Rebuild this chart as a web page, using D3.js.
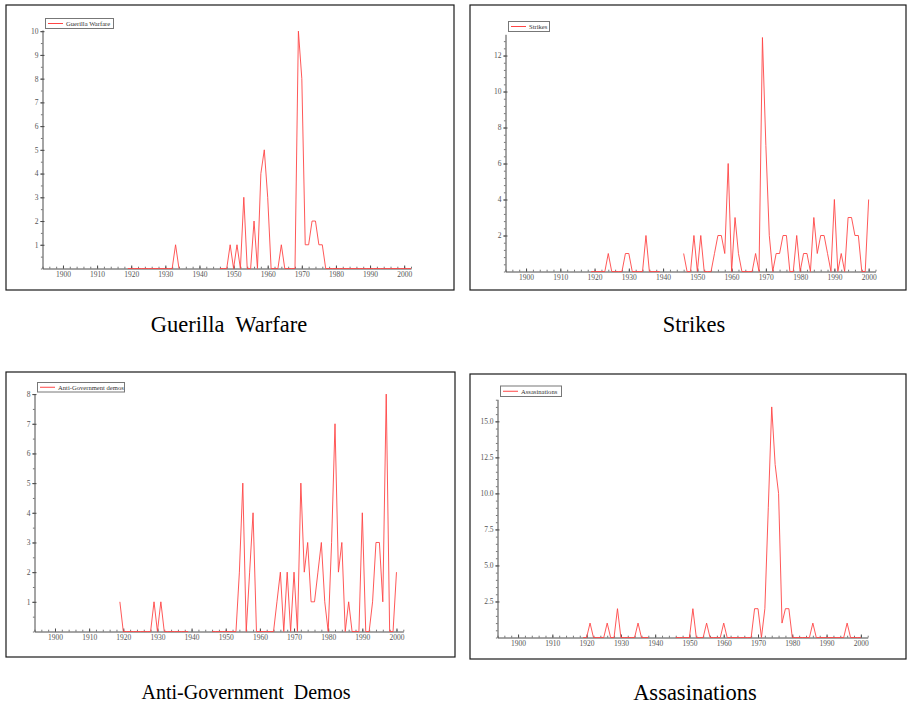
<!DOCTYPE html>
<html>
<head>
<meta charset="utf-8">
<script src="https://cdnjs.cloudflare.com/ajax/libs/d3/7.8.5/d3.min.js"></script>
<style>
    body { margin: 0; background: #fff; }
    svg { display: block; }
</style>
</head>
<body>
<div id="charts"></div>
<script>
// yearly counts, 1919 .. 2002 (null = no data for that year)
const firstYear = 1919;

const guerillaWarfare = [
    0, 0, 0, 0, 0, 0, 0, 0, 0, 0, 0, 0, 0, 0, 1, 0,              // 1919-1934
    null, null, null, null, null, null, null, null, null, null, null, // 1935-1945
    0, 0, 0, 1, 0, 1, 0, 3, 0, 0, 2, 0, 4, 5, 3, 0,              // 1946-1961
    0, 0, 1, 0, 0, 0, 0, 10, 8, 1, 1, 2, 2, 1, 1, 0,             // 1962-1977
    0, 0, 0, 0, 0, 0, 0, 0, 0, 0, 0, 0, 0, 0, 0, 0,              // 1978-1993
    0, 0, 0, 0, 0, 0, 0, 0, 0                                    // 1994-2002
];

const strikes = [
    0, 0, 0, 0, 0, 1, 0, 0, 0, 0, 1, 1, 0, 0, 0, 0,              // 1919-1934
    2, 0, 0, 0, 0,                                               // 1935-1939
    null, null, null, null, null, null,                          // 1940-1945
    1, 0, 0, 2, 0, 2, 0, 0, 0, 1, 2, 2, 1, 6, 0, 3,              // 1946-1961
    1, 0, 0, 0, 0, 1, 0, 13, 7, 2, 0, 1, 1, 2, 2, 0,             // 1962-1977
    0, 2, 0, 1, 1, 0, 3, 1, 2, 2, 1, 0, 4, 0, 1, 0,              // 1978-1993
    3, 3, 2, 2, 0, 0, 4, null, null                              // 1994-2002
];

const antiGovDemos = [
    1, 0, 0, 0, 0, 0, 0, 0, 0, 0, 1, 0, 1, 0, 0, 0,              // 1919-1934
    0, 0, 0, 0, 0,                                               // 1935-1939
    null, null, null, null, null, null,                          // 1940-1945
    0, 0, 0, 0, 0, 0, 0, 0, 2, 5, 0, 2, 4, 0, 0, 0,              // 1946-1961
    0, 0, 0, 1, 2, 0, 2, 0, 2, 0, 5, 2, 3, 1, 1, 2,              // 1962-1977
    3, 1, 0, 3, 7, 2, 3, 0, 1, 0, 0, 0, 4, 0, 0, 1,              // 1978-1993
    3, 3, 1, 8, 0, 0, 2, null, null                              // 1994-2002
];

const assasinations = [
    0, 0, 1, 0, 0, 0, 0, 1, 0, 0, 2, 0, 0, 0, 0, 0,              // 1919-1934
    1, 0, 0, 0,                                                  // 1935-1938
    null, null, null, null, null, null, null,                    // 1939-1945
    0, 0, 0, 0, 0, 2, 0, 0, 0, 1, 0, 0, 0, 0, 1, 0,              // 1946-1961
    0, 0, 0, 0, 0, 0, 0, 2, 2, 0, 2, 9, 16, 12, 10, 1,           // 1962-1977
    2, 2, 0, 0, 0, 0, 0, 0, 1, 0, 0, 0, 0, 0, 0, 0,              // 1978-1993
    0, 0, 1, 0, 0, 0, 0, null, null                              // 1994-2002
];

const xTickYears = [1900, 1910, 1920, 1930, 1940, 1950, 1960, 1970, 1980, 1990, 2000];
const guerillaTicks = [1, 2, 3, 4, 5, 6, 7, 8, 9, 10];
const strikesTicks = [2, 4, 6, 8, 10, 12];
const antiGovTicks = [1, 2, 3, 4, 5, 6, 7, 8];
const assasinationsTicks = [2.5, 5, 7.5, 10, 12.5, 15];

const xDomain = [1894, 2002];

const panels = [
    {
        series: guerillaWarfare, legend: 'Guerilla Warfare', title: 'Guerilla  Warfare',
        yTicks: guerillaTicks, yFormat: d3.format('d'), yMax: 10.05, minorStep: 0.5,
        box: {x: 6, y: 5, w: 448, h: 285},
        plot: {left: 42.5, right: 411, top: 30, bottom: 268.5},
        legendBox: {x: 45, y: 18, w: 68, h: 10},
        titlePos: {x: 229, y: 332}, titleSize: 22.5
    },
    {
        series: strikes, legend: 'Strikes', title: 'Strikes',
        yTicks: strikesTicks, yFormat: d3.format('d'), yMax: 13.18, minorStep: 0.4,
        box: {x: 470, y: 5, w: 436, h: 285},
        plot: {left: 505.5, right: 875.5, top: 34.3, bottom: 271.5},
        legendBox: {x: 508, y: 21, w: 41, h: 10},
        titlePos: {x: 694, y: 332}, titleSize: 22.5
    },
    {
        series: antiGovDemos, legend: 'Anti-Government demos', title: 'Anti-Government  Demos',
        yTicks: antiGovTicks, yFormat: d3.format('d'), yMax: 8.02, minorStep: 0.5,
        box: {x: 6, y: 372, w: 449, h: 285},
        plot: {left: 34.5, right: 403.3, top: 393.5, bottom: 631.5},
        legendBox: {x: 37, y: 382, w: 87, h: 9.5},
        titlePos: {x: 246, y: 699}, titleSize: 20
    },
    {
        series: assasinations, legend: 'Assasinations', title: 'Assasinations',
        yTicks: assasinationsTicks, yFormat: d3.format('.1f'), yMax: 16.53, minorStep: 0.5,
        box: {x: 470, y: 374, w: 436, h: 285},
        plot: {left: 497.5, right: 867.7, top: 399.3, bottom: 637.5},
        legendBox: {x: 500, y: 385.5, w: 61, h: 10.5},
        titlePos: {x: 695, y: 700}, titleSize: 22.5
    }
];

const lineColor = '#ff4545';
const axisColor = '#4a4a4a';
const serif = '"Liberation Serif", "Times New Roman", serif';

const svg = d3.select('#charts').append('svg')
    .attr('width', 909)
    .attr('height', 709);

function drawPanel(p) {
    const g = svg.append('g');

    g.append('rect')
        .attr('x', p.box.x)
        .attr('y', p.box.y)
        .attr('width', p.box.w)
        .attr('height', p.box.h)
        .attr('fill', 'none')
        .attr('stroke', '#1a1a1a')
        .attr('stroke-width', 1.2);

    const xScale = d3.scaleLinear()
        .domain(xDomain)
        .range([p.plot.left, p.plot.right]);

    const yScale = d3.scaleLinear()
        .domain([0, p.yMax])
        .range([p.plot.bottom, p.plot.top]);

    // minor ticks first, so the major ones sit on top
    const minorYears = d3.range(xDomain[0], xDomain[1] + 1, 2);
    g.append('g')
        .attr('transform', `translate(0,${p.plot.bottom})`)
        .call(d3.axisBottom(xScale).tickValues(minorYears).tickFormat('').tickSizeInner(-1.8).tickSizeOuter(0))
        .call(a => a.select('.domain').remove())
        .selectAll('line').attr('stroke', '#777');

    const minorY = d3.range(0, p.yMax, p.minorStep);
    g.append('g')
        .attr('transform', `translate(${p.plot.left},0)`)
        .call(d3.axisLeft(yScale).tickValues(minorY).tickFormat('').tickSizeInner(1.6).tickSizeOuter(0))
        .call(a => a.select('.domain').remove())
        .selectAll('line').attr('stroke', '#777');

    const xAxis = g.append('g')
        .attr('transform', `translate(0,${p.plot.bottom})`)
        .call(d3.axisBottom(xScale).tickValues(xTickYears).tickFormat(d3.format('d'))
            .tickSizeInner(-3).tickSizeOuter(0).tickPadding(3.5));

    const yAxis = g.append('g')
        .attr('transform', `translate(${p.plot.left},0)`)
        .call(d3.axisLeft(yScale).tickValues(p.yTicks).tickFormat(p.yFormat)
            .tickSizeInner(2.2).tickSizeOuter(0).tickPadding(1.8));

    yAxis.selectAll('.tick line').attr('x1', 2);

    [xAxis, yAxis].forEach(a => {
        a.select('.domain').attr('stroke', axisColor);
        a.selectAll('.tick line').attr('stroke', axisColor);
        a.selectAll('text')
            .attr('fill', '#555')
            .style('font-family', serif)
            .style('font-size', '7.5px');
    });

    const points = p.series.map((v, i) => ({year: firstYear + i, value: v}));

    const line = d3.line()
        .defined(d => d.value !== null)
        .x(d => xScale(d.year))
        .y(d => yScale(d.value));

    g.append('path')
        .datum(points)
        .attr('fill', 'none')
        .attr('stroke', lineColor)
        .attr('stroke-width', 0.9)
        .attr('d', line);

    // legend
    const lb = p.legendBox;
    g.append('rect')
        .attr('x', lb.x + 0.5)
        .attr('y', lb.y + 0.5)
        .attr('width', lb.w)
        .attr('height', lb.h)
        .attr('fill', '#fff')
        .attr('stroke', '#777')
        .attr('stroke-width', 1);
    g.append('line')
        .attr('x1', lb.x + 3)
        .attr('x2', lb.x + 18)
        .attr('y1', lb.y + lb.h / 2 + 0.5)
        .attr('y2', lb.y + lb.h / 2 + 0.5)
        .attr('stroke', lineColor)
        .attr('stroke-width', 1);
    g.append('text')
        .attr('x', lb.x + 21)
        .attr('y', lb.y + lb.h / 2 + 2.8)
        .attr('fill', '#333')
        .style('font-family', serif)
        .style('font-size', '6.6px')
        .text(p.legend);

    g.append('text')
        .attr('x', p.titlePos.x)
        .attr('y', p.titlePos.y)
        .attr('text-anchor', 'middle')
        .style('white-space', 'pre')
        .style('font-family', serif)
        .style('font-size', p.titleSize + 'px')
        .attr('fill', '#000')
        .text(p.title);
}

panels.forEach(drawPanel);
</script>
</body>
</html>
